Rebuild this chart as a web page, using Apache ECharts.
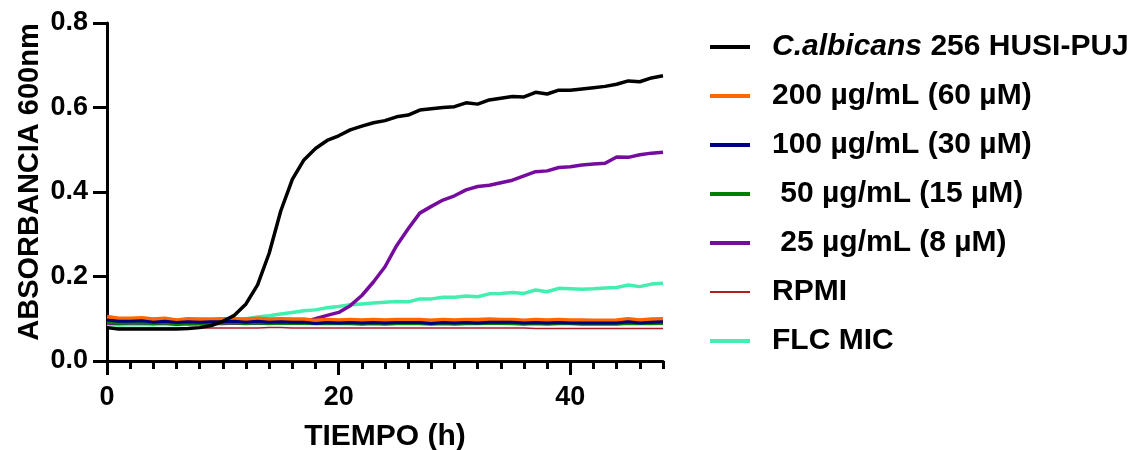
<!DOCTYPE html>
<html>
<head>
<meta charset="utf-8">
<script src="https://cdn.jsdelivr.net/npm/echarts@6/dist/echarts.min.js"></script>
<style>html,body{margin:0;padding:0;background:#fff}#c{width:1132px;height:450px}</style>
</head>
<body>
<div id="c"></div>
<script>
const hours = [0,1,2,3,4,5,6,7,8,9,10,11,12,13,14,15,16,17,18,19,20,21,22,23,24,25,26,27,28,29,30,31,32,33,34,35,36,37,38,39,40,41,42,43,44,45,46,47,48];
const xTickLabels = [0, 20, 40];
const yTickLabels = [0, 0.2, 0.4, 0.6, 0.8];
const seriesNames = ['C.albicans 256 HUSI-PUJ', '200 µg/mL (60 µM)', '100 µg/mL (30 µM)', ' 50 µg/mL (15 µM)', ' 25 µg/mL (8 µM)', 'RPMI', 'FLC MIC'];

const calbicans = [0.079,0.076,0.076,0.076,0.076,0.076,0.076,0.077,0.079,0.084,0.094,0.108,0.135,0.180,0.255,0.355,0.430,0.476,0.503,0.522,0.533,0.547,0.556,0.564,0.569,0.578,0.582,0.594,0.597,0.600,0.602,0.611,0.608,0.618,0.622,0.626,0.625,0.636,0.632,0.641,0.641,0.644,0.647,0.650,0.655,0.663,0.661,0.670,0.675];
const c200 = [0.104,0.100,0.100,0.101,0.098,0.100,0.096,0.099,0.098,0.098,0.099,0.099,0.098,0.100,0.098,0.099,0.098,0.098,0.095,0.097,0.096,0.097,0.096,0.097,0.096,0.097,0.097,0.097,0.095,0.097,0.096,0.097,0.097,0.098,0.097,0.097,0.095,0.097,0.096,0.097,0.096,0.096,0.095,0.095,0.096,0.099,0.096,0.098,0.099];
const c100 = [0.097,0.094,0.094,0.095,0.092,0.094,0.091,0.093,0.092,0.093,0.093,0.094,0.092,0.094,0.092,0.093,0.092,0.092,0.089,0.091,0.090,0.091,0.090,0.091,0.090,0.091,0.091,0.091,0.089,0.091,0.090,0.091,0.090,0.092,0.092,0.092,0.090,0.091,0.090,0.091,0.090,0.090,0.090,0.090,0.090,0.093,0.090,0.092,0.093];
const c50 = [0.092,0.089,0.090,0.090,0.089,0.090,0.088,0.089,0.089,0.089,0.090,0.090,0.089,0.090,0.089,0.089,0.089,0.089,0.088,0.088,0.088,0.088,0.087,0.088,0.087,0.088,0.088,0.088,0.087,0.088,0.087,0.088,0.088,0.089,0.089,0.088,0.087,0.088,0.087,0.088,0.088,0.087,0.087,0.087,0.087,0.089,0.088,0.088,0.089];
const c25 = [0.090,0.089,0.090,0.090,0.089,0.090,0.087,0.089,0.088,0.089,0.089,0.090,0.089,0.090,0.089,0.090,0.090,0.093,0.100,0.108,0.115,0.131,0.155,0.187,0.223,0.273,0.313,0.350,0.366,0.381,0.391,0.405,0.413,0.416,0.422,0.428,0.438,0.448,0.450,0.458,0.460,0.464,0.466,0.468,0.483,0.482,0.488,0.492,0.494];
const rpmi = [0.079,0.078,0.078,0.078,0.078,0.078,0.078,0.078,0.078,0.078,0.078,0.078,0.078,0.078,0.079,0.079,0.078,0.078,0.078,0.078,0.078,0.078,0.078,0.078,0.078,0.078,0.078,0.078,0.078,0.078,0.078,0.078,0.078,0.078,0.078,0.078,0.078,0.077,0.077,0.077,0.077,0.077,0.077,0.077,0.077,0.077,0.077,0.077,0.077];
const flcMic = [0.086,0.085,0.086,0.086,0.086,0.087,0.086,0.087,0.088,0.090,0.093,0.096,0.100,0.104,0.107,0.111,0.115,0.119,0.121,0.126,0.129,0.133,0.135,0.137,0.139,0.141,0.140,0.147,0.147,0.151,0.151,0.154,0.152,0.159,0.160,0.162,0.160,0.168,0.164,0.172,0.171,0.170,0.171,0.173,0.174,0.180,0.176,0.182,0.184];

const FONT = '"Liberation Sans", Arial, sans-serif';
const xMinorTicks = [];
for (let h = 2; h <= 48; h += 2) { if (xTickLabels.indexOf(h) < 0) xMinorTicks.push(h); }

function pairs(arr) { return hours.map((h, i) => [h, arr[i]]); }

const styles = [
  { color: '#000000', width: 3.5 },
  { color: '#FF6600', width: 4.5 },
  { color: '#000080', width: 3 },
  { color: '#008000', width: 3 },
  { color: '#760C9E', width: 3.5 },
  { color: '#B01E1E', width: 1.5 },
  { color: '#44EEB0', width: 3.5 }
];
const dataSets = [calbicans, c200, c100, c50, c25, rpmi, flcMic];
const drawOrder = [5, 6, 4, 3, 1, 2, 0];

const series = drawOrder.map(i => ({
  name: seriesNames[i],
  type: 'line',
  symbol: 'none',
  data: pairs(dataSets[i]),
  lineStyle: { color: styles[i].color, width: styles[i].width },
  itemStyle: { color: styles[i].color },
  z: 2 + drawOrder.indexOf(i),
  silent: true,
  animation: false
}));
series.push({
  type: 'line', xAxisIndex: 1, data: [], silent: true
});

const chart = echarts.init(document.getElementById('c'), null, { renderer: 'canvas' });
chart.setOption({
  animation: false,
  backgroundColor: '#ffffff',
  grid: { left: 107, right: 469, top: 23, bottom: 89, containLabel: false, outerBoundsMode: 'none' },
  legend: {
    orient: 'vertical',
    left: 708,
    top: 32,
    padding: 0,
    itemGap: 19,
    itemWidth: 40,
    itemHeight: 4,
    selectedMode: false,
    itemStyle: { opacity: 0 },
    data: seriesNames.map((n, i) => ({ name: n, lineStyle: { width: i === 5 ? 2 : 4 }, itemStyle: { opacity: 0 } })),
    formatter: function (name) {
      if (name === seriesNames[0]) return '{i|C.albicans} 256 HUSI-PUJ';
      return name;
    },
    textStyle: {
      fontFamily: FONT, fontWeight: 'bold', fontSize: 30, color: '#000',
      padding: [0, 0, 0, 17],
      rich: { i: { fontFamily: FONT, fontWeight: 'bold', fontStyle: 'italic', fontSize: 30, color: '#000' } }
    }
  },
  xAxis: [{
    type: 'value', min: 0, max: 48,
    name: 'TIEMPO (h)', nameLocation: 'middle', nameGap: 61,
    nameTextStyle: { fontFamily: FONT, fontWeight: 'bold', fontSize: 30, color: '#000' },
    axisLine: { show: true, onZero: false, lineStyle: { color: '#000', width: 3 } },
    axisTick: { show: true, inside: false, length: 14, customValues: xTickLabels, lineStyle: { color: '#000', width: 3 } },
    axisLabel: { show: true, margin: 23, customValues: xTickLabels, fontFamily: FONT, fontWeight: 'bold', fontSize: 27, color: '#000' },
    splitLine: { show: false }
  }, {
    type: 'value', min: 0, max: 48, position: 'bottom',
    axisLine: { show: false },
    axisTick: { show: true, inside: false, length: 8, customValues: xMinorTicks, lineStyle: { color: '#000', width: 3 } },
    axisLabel: { show: false },
    splitLine: { show: false }
  }],
  yAxis: {
    type: 'value', min: 0, max: 0.8, interval: 0.2,
    name: 'ABSORBANCIA 600nm', nameLocation: 'middle', nameGap: 63,
    nameTextStyle: { fontFamily: FONT, fontWeight: 'bold', fontSize: 29, color: '#000', padding: [0, 0, 0, 20] },
    axisLine: { show: true, onZero: false, lineStyle: { color: '#000', width: 3 } },
    axisTick: { show: true, inside: false, length: 14, customValues: yTickLabels, lineStyle: { color: '#000', width: 3 } },
    axisLabel: { show: true, margin: 19, customValues: yTickLabels, formatter: v => v.toFixed(1), fontFamily: FONT, fontWeight: 'bold', fontSize: 27, color: '#000' },
    splitLine: { show: false }
  },
  series: series
});
</script>
</body>
</html>
